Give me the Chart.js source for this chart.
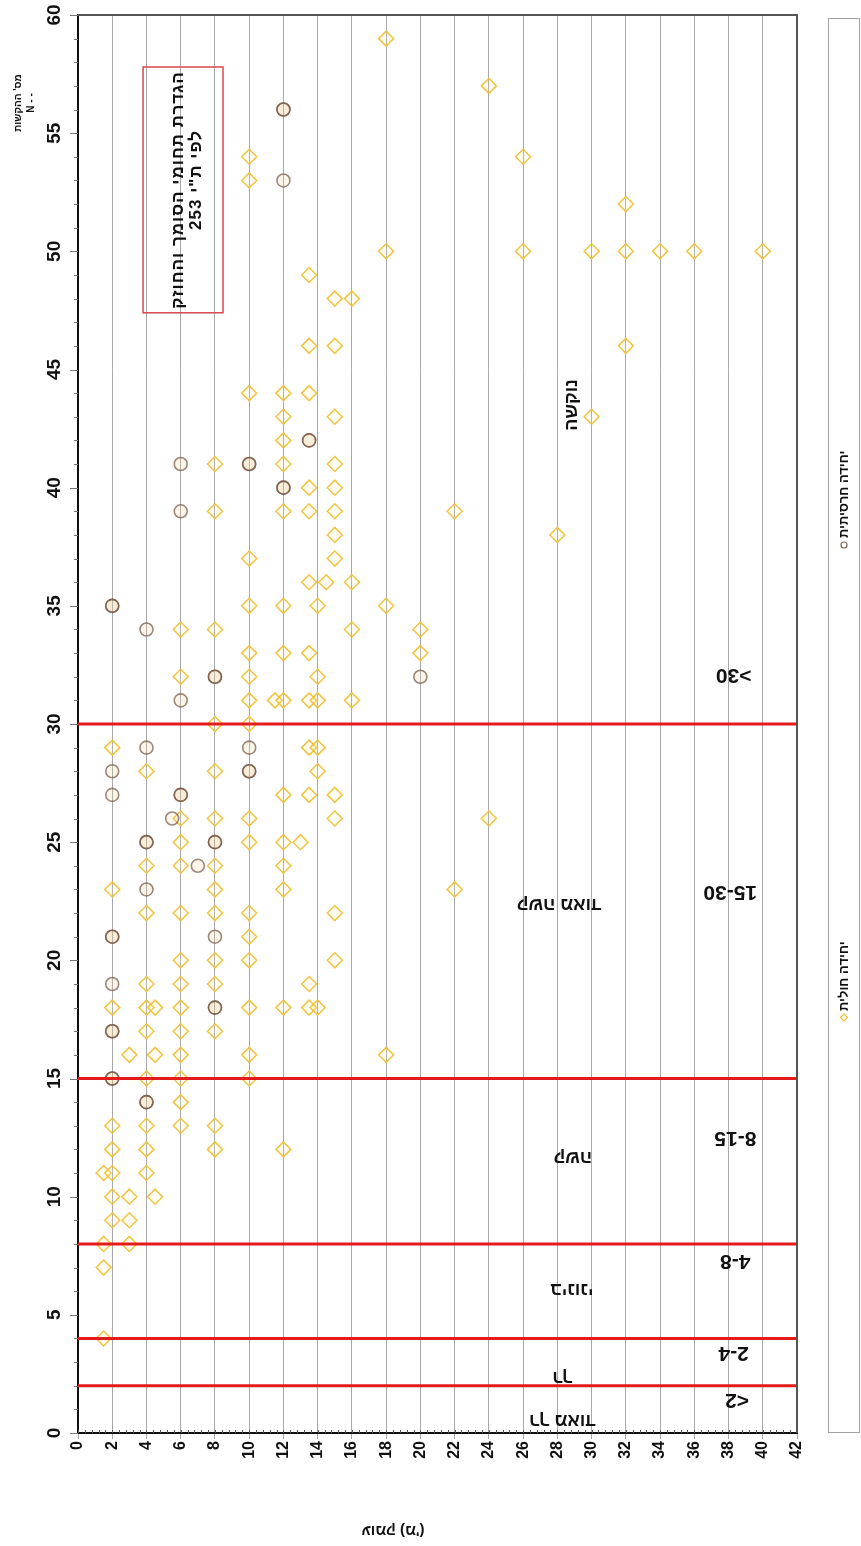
<!DOCTYPE html>
<html>
<head>
<meta charset="utf-8">
<script src="https://cdn.jsdelivr.net/npm/chart.js@4.4.0/dist/chart.umd.min.js"></script>
<style>
  body { margin: 0; background: #ffffff; }
  canvas { display: block; }
</style>
</head>
<body>
<canvas id="graphique" width="861" height="1546"></canvas>
<script>
/********************/
/* Données du graphe */
/********************/

// Unité sableuse (יחידה חולית) : profondeur (m) et N
var cholitProf = [
  18, 24, 10, 26, 10, 32,
  18, 26, 30, 32, 34, 36, 40,
  13.5, 15, 16, 13.5, 15, 32,
  10, 12, 13.5, 12, 15, 30, 12,
  8, 12, 15, 13.5, 15,
  8, 12, 13.5, 15, 22, 15, 28, 10, 15,
  13.5, 14.5, 16, 10, 12, 14, 18,
  6, 8, 16, 20, 10, 12, 13.5, 20,
  6, 10, 14, 10, 11.5, 12, 13.5, 14, 16,
  8, 10, 2, 13.5, 14, 4, 8, 14,
  12, 13.5, 15, 6, 8, 10, 15, 24,
  6, 10, 12, 13, 4, 6, 8, 12,
  2, 8, 12, 22, 4, 6, 8, 10, 15,
  10, 6, 8, 10, 15, 4, 6, 8, 13.5,
  2, 4, 4.5, 6, 10, 12, 13.5, 14,
  4, 6, 8, 3, 4.5, 6, 10, 18,
  4, 6, 10, 6, 2, 4, 6, 8,
  2, 4, 8, 12, 1.5, 2, 4,
  2, 3, 4.5, 2, 3, 1.5, 3, 1.5, 1.5
];
var cholitN = [
  59, 57, 54, 54, 53, 52,
  50, 50, 50, 50, 50, 50, 50,
  49, 48, 48, 46, 46, 46,
  44, 44, 44, 43, 43, 43, 42,
  41, 41, 41, 40, 40,
  39, 39, 39, 39, 39, 38, 38, 37, 37,
  36, 36, 36, 35, 35, 35, 35,
  34, 34, 34, 34, 33, 33, 33, 33,
  32, 32, 32, 31, 31, 31, 31, 31, 31,
  30, 30, 29, 29, 29, 28, 28, 28,
  27, 27, 27, 26, 26, 26, 26, 26,
  25, 25, 25, 25, 24, 24, 24, 24,
  23, 23, 23, 23, 22, 22, 22, 22, 22,
  21, 20, 20, 20, 20, 19, 19, 19, 19,
  18, 18, 18, 18, 18, 18, 18, 18,
  17, 17, 17, 16, 16, 16, 16, 16,
  15, 15, 15, 14, 13, 13, 13, 13,
  12, 12, 12, 12, 11, 11, 11,
  10, 10, 10, 9, 9, 8, 8, 7, 4
];

// Unité argileuse (יחידה חרסיתית) : profondeur (m) et N (points doublés = superposés)
var charsitProf = [
  12, 12, 12, 13.5, 13.5, 6, 10, 10, 12, 12, 6,
  2, 2, 4, 8, 8, 20, 6, 4, 10,
  2, 10, 10, 2, 6, 6, 5.5, 4, 4, 8, 8, 7, 4,
  2, 2, 8, 2, 8, 8, 2, 2, 2, 2, 4, 4
];
var charsitN = [
  56, 56, 53, 42, 42, 41, 41, 41, 40, 40, 39,
  35, 35, 34, 32, 32, 32, 31, 29, 29,
  28, 28, 28, 27, 27, 27, 26, 25, 25, 25, 25, 24, 23,
  21, 21, 21, 19, 18, 18, 17, 17, 15, 15, 14, 14
];

// Limites des classes de consistance (N)
var limitesN = [2, 4, 8, 15, 30];
var classesN = ['<2', '2-4', '4-8', '8-15', '15-30', '>30'];
var classesSol = ['רך מאוד', 'רך', 'בינוני', 'קשה', 'קשה מאוד', 'נוקשה'];

// Graduations
var ticksProf = [0, 2, 4, 6, 8, 10, 12, 14, 16, 18, 20, 22, 24, 26, 28, 30, 32, 34, 36, 38, 40, 42];
var ticksN = [0, 5, 10, 15, 20, 25, 30, 35, 40, 45, 50, 55, 60];

var legendes = ['יחידה חרסיתית', 'יחידה חולית'];

/*************************************/
/* Positions des textes (unités data) */
/*************************************/
var posClassesN = [[38.5, 1.4], [38.3, 3.4], [38.4, 7.3], [38.4, 12.5], [38.1, 22.9], [38.3, 32.1]];
var posClassesSol = [[28.3, 0.55], [28.3, 2.35], [28.85, 6.1], [28.9, 11.7], [28.1, 22.4], [28.85, 43.5]];

var FONT = '"Liberation Sans", Arial, sans-serif';

//Construction des points (x,y)
function points(xs, ys) {
    var res = [];
    for (var i = 0; i < xs.length; i++) res.push({ x: xs[i], y: ys[i] });
    return res;
}

//Datasets des lignes rouges
var datasetsLimites = limitesN.map(function(n) {
    return {
        type: 'line',
        data: [{ x: 0, y: n }, { x: 42, y: n }],
        borderColor: '#e31b1b',
        borderWidth: 3,
        pointRadius: 0,
        fill: false
    };
});

/*******************************/
/* Dessins supplémentaires     */
/*******************************/
var decorations = {
    id: 'decorations',
    afterDraw: function(chart) {
        var ctx = chart.ctx;
        var sx = chart.scales.x, sy = chart.scales.y;
        var ca = chart.chartArea;

        function texte(str, x, y, rot, font, align, dir, spacing) {
            ctx.save();
            ctx.translate(x, y);
            ctx.rotate(rot);
            ctx.font = font;
            ctx.fillStyle = '#111';
            ctx.direction = dir || 'rtl';
            ctx.letterSpacing = spacing || '0px';
            ctx.textAlign = align || 'center';
            ctx.textBaseline = 'middle';
            ctx.fillText(str, 0, 0);
            ctx.restore();
        }

        //Cadre haut et droite
        ctx.save();
        ctx.strokeStyle = '#555';
        ctx.lineWidth = 2;
        ctx.beginPath();
        ctx.moveTo(ca.left, ca.top);
        ctx.lineTo(ca.right, ca.top);
        ctx.lineTo(ca.right, ca.bottom);
        ctx.stroke();

        //Petites graduations axe N
        ctx.strokeStyle = '#777';
        ctx.lineWidth = 1;
        for (var n = 0; n <= 60; n++) {
            var py = Math.round(sy.getPixelForValue(n)) + 0.5;
            ctx.beginPath();
            ctx.moveTo(ca.left - (n % 5 === 0 ? 8 : 4), py);
            ctx.lineTo(ca.left, py);
            ctx.stroke();
        }
        //Petites graduations axe profondeur
        ctx.strokeStyle = '#555';
        for (var i = 0; i <= 105; i++) {
            var px = Math.round(sx.getPixelForValue(i * 0.4)) + 0.5;
            ctx.beginPath();
            ctx.moveTo(px, ca.bottom);
            ctx.lineTo(px, ca.bottom - 3);
            ctx.stroke();
        }
        ctx.restore();

        //Etiquettes axe N
        ticksN.forEach(function(v) {
            texte(String(v), 55, sy.getPixelForValue(v), -Math.PI / 2, 'bold 19px ' + FONT, 'center', 'ltr');
        });

        //Titre axe N
        texte("מס' ההקשות", 18, 103, -Math.PI / 2, 'bold 10px ' + FONT);
        texte('N - -', 31, 103, -Math.PI / 2, 'bold 10px ' + FONT, 'center', 'ltr');

        //Titre axe profondeur
        texte("עומק (מ')", 393, 1530, Math.PI, 'bold 15px ' + FONT);

        //Classes N
        classesN.forEach(function(c, k) {
            texte(c, sx.getPixelForValue(posClassesN[k][0]), sy.getPixelForValue(posClassesN[k][1]),
                Math.PI, 'bold 21px ' + FONT, 'center', 'ltr');
        });
        //Classes de sol
        classesSol.forEach(function(c, k) {
            var rot = (k === classesSol.length - 1) ? -Math.PI / 2 : Math.PI;
            texte(c, sx.getPixelForValue(posClassesSol[k][0]), sy.getPixelForValue(posClassesSol[k][1]),
                rot, 'bold 18px ' + FONT);
        });

        //Encadré rouge
        var x1 = sx.getPixelForValue(3.8), x2 = sx.getPixelForValue(8.47);
        var y1 = sy.getPixelForValue(57.8), y2 = sy.getPixelForValue(47.4);
        ctx.save();
        ctx.strokeStyle = '#d9474f';
        ctx.lineWidth = 1.5;
        ctx.strokeRect(x1, y1, x2 - x1, y2 - y1);
        ctx.restore();
        texte('הגדרת תחומי הסומך והחוזק', 178, 190, -Math.PI / 2, 'bold 17px ' + FONT, 'center', 'rtl', '1px');
        texte('לפי ת"י 253', 196, 180, -Math.PI / 2, 'bold 17px ' + FONT, 'center', 'rtl', '1px');

        //Légende
        ctx.save();
        ctx.strokeStyle = '#a0a0a0';
        ctx.lineWidth = 1;
        ctx.strokeRect(828.5, 18.5, 31, 1414);
        //-marqueur cercle
        ctx.strokeStyle = 'rgba(115,85,65,0.9)';
        ctx.lineWidth = 1.2;
        ctx.beginPath();
        ctx.arc(844, 545, 3, 0, 2 * Math.PI);
        ctx.stroke();
        //-marqueur losange
        ctx.strokeStyle = '#efbf2f';
        ctx.beginPath();
        ctx.moveTo(844, 1014); ctx.lineTo(847.5, 1017.5); ctx.lineTo(844, 1021); ctx.lineTo(840.5, 1017.5);
        ctx.closePath();
        ctx.stroke();
        ctx.restore();
        texte(legendes[0], 844, 538, -Math.PI / 2, 'bold 13px ' + FONT, 'left');
        texte(legendes[1], 844, 1011, -Math.PI / 2, 'bold 13px ' + FONT, 'left');
    }
};

/********************/
/* Création du graphe */
/********************/
var ctx = document.getElementById('graphique').getContext('2d');
var grapheChart = new Chart(ctx, {
    type: 'scatter',
    data: {
        datasets: datasetsLimites.concat([
            {
                label: legendes[0],
                data: points(charsitProf, charsitN),
                pointStyle: 'circle',
                pointRadius: 6.5,
                borderWidth: 1.6,
                borderColor: 'rgba(115,85,65,0.7)',
                backgroundColor: 'rgba(235,200,140,0.18)'
            },
            {
                label: legendes[1],
                data: points(cholitProf, cholitN),
                pointStyle: 'rectRot',
                pointRadius: 7.5,
                borderWidth: 1.5,
                borderColor: 'rgba(239,191,47,0.9)',
                backgroundColor: 'rgba(255,235,170,0.15)'
            }
        ])
    },
    options: {
        responsive: false,
        animation: false,
        layout: { padding: { left: 0, right: 64, top: 15, bottom: 0 } },
        plugins: {
            legend: { display: false },
            tooltip: { enabled: false }
        },
        scales: {
            x: {
                type: 'linear',
                min: 0,
                max: 42,
                afterFit: function(scale) { scale.height = 113; },
                afterBuildTicks: function(scale) {
                    scale.ticks = ticksProf.map(function(v) { return { value: v }; });
                },
                ticks: {
                    autoSkip: false,
                    minRotation: 90,
                    maxRotation: 90,
                    padding: 2,
                    color: '#111',
                    font: { family: FONT, size: 16, weight: 'bold' }
                },
                grid: {
                    color: '#a9a9a9',
                    lineWidth: 1,
                    tickLength: 6
                },
                border: { display: true, color: '#111', width: 2 }
            },
            y: {
                type: 'linear',
                min: 0,
                max: 60,
                afterFit: function(scale) { scale.width = 78; },
                ticks: { display: false },
                grid: { display: false },
                border: { display: true, color: '#111', width: 2 }
            }
        }//Fin scales
    },//Fin options
    plugins: [decorations]
});
</script>
</body>
</html>
